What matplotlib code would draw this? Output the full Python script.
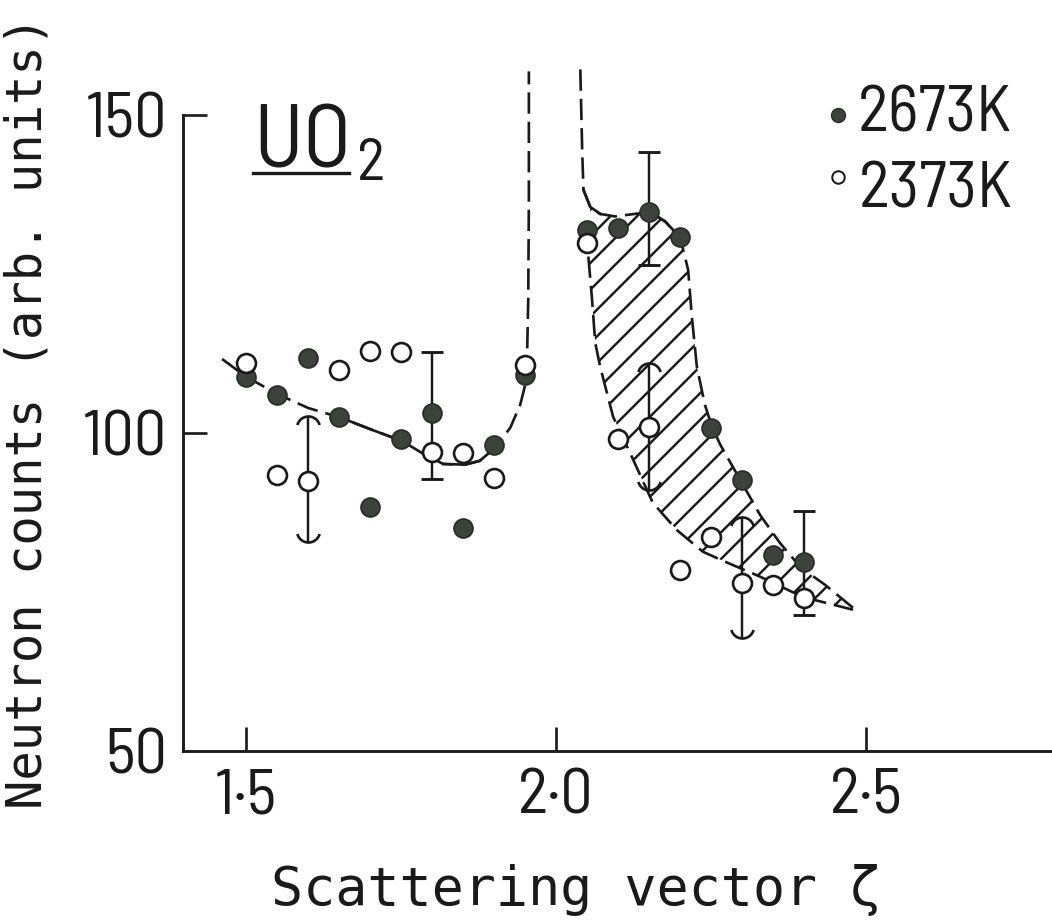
import numpy as np
import matplotlib
matplotlib.use("Agg")
import matplotlib.pyplot as plt
from matplotlib.path import Path
from matplotlib.lines import Line2D

# ---------------- data ----------------
q_left = [1.50, 1.55, 1.60, 1.65, 1.70, 1.75, 1.80, 1.85, 1.90, 1.95]
hot_left = [108.8, 106.0, 111.8, 102.5, 88.4, 99.1, 103.1, 85.1, 98.1, 109.1]     # 2673 K
cold_left = [111.0, 93.4, 92.5, 109.9, 112.9, 112.7, 97.0, 96.9, 92.9, 110.7]     # 2373 K

q_right = [2.05, 2.10, 2.15, 2.20, 2.25, 2.30, 2.35, 2.40]
hot_right = [131.9, 132.2, 134.7, 130.7, 100.8, 92.6, 80.8, 79.7]
cold_right = [129.9, 99.1, 100.9, 78.5, 83.6, 76.4, 76.1, 74.1]

hot_err_q = [1.80, 2.15, 2.40]
hot_err_lo = [92.8, 126.4, 71.4]
hot_err_hi = [112.7, 144.2, 87.7]

cold_err_q = [1.60, 2.15, 2.30]
cold_err_lo = [82.9, 91.0, 67.8]
cold_err_hi = [102.7, 111.0, 86.8]

# guide curves drawn by hand in the original
left_curve_q = [1.461, 1.500, 1.550, 1.600, 1.652, 1.702, 1.752, 1.789, 1.818, 1.853,
                1.877, 1.903, 1.926, 1.942, 1.950, 1.953, 1.955, 1.956, 1.956]
left_curve_y = [111.6, 108.8, 106.1, 103.9, 102.4, 100.5, 98.7, 96.5, 95.1, 95.0,
                95.6, 97.8, 100.8, 104.4, 107.5, 111.5, 120.9, 136.6, 156.8]

upper_curve_q = [2.039, 2.042, 2.044, 2.055, 2.071, 2.095, 2.127, 2.152, 2.176, 2.200,
                 2.213, 2.219, 2.227, 2.240, 2.252, 2.265, 2.297, 2.329, 2.361, 2.394,
                 2.434, 2.479]
upper_curve_y = [157.1, 144.5, 138.2, 135.5, 134.4, 134.0, 134.4, 134.7, 133.2, 130.7,
                 125.6, 118.2, 110.4, 104.4, 100.8, 98.1, 92.6, 87.1, 82.7, 78.9,
                 76.1, 72.5]

lower_curve_q = [2.052, 2.058, 2.063, 2.071, 2.092, 2.119, 2.156, 2.195, 2.237, 2.276,
                 2.329, 2.398, 2.479]
lower_curve_y = [127.7, 120.9, 114.2, 110.4, 102.5, 96.9, 89.0, 84.7, 81.3, 79.6,
                 77.4, 74.2, 72.2]

x_ticks = [1.5, 2.0, 2.5]
x_ticklabels = ["1\u00b75", "2\u00b70", "2\u00b75"]
y_ticks = [50, 100, 150]
y_ticklabels = ["50", "100", "150"]
series_labels = ["2673K", "2373K"]

# ---------------- style ----------------
W, H, DPI = 1052, 923, 160
plt.rcParams["hatch.linewidth"] = 1.1
NARROW = ["Barlow Semi Condensed", "Barlow Condensed", "DejaVu Sans"]
MONO = ["DejaVu Sans Mono", "DejaVu Sans"]
INK = "#1a1a1a"
DOT = "#3d423d"

fig = plt.figure(figsize=(W / DPI, H / DPI), dpi=DPI)
ax = fig.add_axes([183 / W, (H - 751) / H, (W - 183) / W, 700 / H])
ax.set_xlim(1.398, 2.80)
ax.set_ylim(50, 160)

for s in ["top", "right"]:
    ax.spines[s].set_visible(False)
ax.spines["left"].set_bounds(50, 150)
for s in ["left", "bottom"]:
    ax.spines[s].set_linewidth(1.3)
    ax.spines[s].set_color(INK)

ax.set_xticks(x_ticks)
ax.set_xticklabels(x_ticklabels)
ax.set_yticks(y_ticks)
ax.set_yticklabels(y_ticklabels)
ax.tick_params(direction="in", length=11, width=1.2, color=INK, labelsize=29)
ax.tick_params(axis="x", pad=8)
ax.tick_params(axis="y", pad=7)
for lab in ax.get_xticklabels() + ax.get_yticklabels():
    lab.set_family(NARROW)
    lab.set_color(INK)
# no tick mark at the corner (50)
ax.yaxis.get_major_ticks()[0].tick1line.set_visible(False)

# hatched band between the two right-hand curves
poly_q = np.concatenate([upper_curve_q[3:], lower_curve_q[::-1]])
poly_y = np.concatenate([upper_curve_y[3:], lower_curve_y[::-1]])
ax.fill(poly_q, poly_y, facecolor="none", edgecolor=INK, hatch="//", linewidth=0, zorder=1)

dash = (0, (8, 3))
lw = 1.2
ax.plot(left_curve_q, left_curve_y, color=INK, lw=lw, linestyle=dash, zorder=2)
ax.plot(left_curve_q[4:7], left_curve_y[4:7], color=INK, lw=lw, zorder=2)
ax.plot(left_curve_q[8:12], left_curve_y[8:12], color=INK, lw=lw, zorder=2)
ax.plot(upper_curve_q, upper_curve_y, color=INK, lw=lw, linestyle=dash, zorder=2)
ax.plot(upper_curve_q[2:5], upper_curve_y[2:5], color=INK, lw=lw, zorder=2)
ax.plot(upper_curve_q[7:10], upper_curve_y[7:10], color=INK, lw=lw, zorder=2)
ax.plot(lower_curve_q, lower_curve_y, color=INK, lw=lw, linestyle=dash, zorder=2)

# error bars: flat caps for 2673 K, curved caps for 2373 K
ax.vlines(hot_err_q, hot_err_lo, hot_err_hi, color=INK, lw=1.1, zorder=3)
ax.plot(hot_err_q, hot_err_lo, linestyle="none", marker="_", ms=10, mew=1.3, color=INK, zorder=3)
ax.plot(hot_err_q, hot_err_hi, linestyle="none", marker="_", ms=10, mew=1.3, color=INK, zorder=3)

t = np.linspace(np.radians(15), np.radians(165), 25)
arch = Path(np.column_stack([np.cos(t), np.sin(t) - 1.0]))
cup = Path(np.column_stack([np.cos(t), 1.0 - np.sin(t)]))
ax.vlines(cold_err_q, cold_err_lo, cold_err_hi, color=INK, lw=1.1, zorder=3)
ax.plot(cold_err_q, cold_err_hi, linestyle="none", marker=arch, ms=10, mew=1.2,
        color=INK, mfc="none", zorder=3)
ax.plot(cold_err_q, cold_err_lo, linestyle="none", marker=cup, ms=10, mew=1.2,
        color=INK, mfc="none", zorder=3)

# data points
mk = dict(linestyle="none", marker="o", ms=8.5, zorder=4)
ax.plot(q_left, hot_left, mfc=DOT, mec="#2a2d2a", mew=0.8, **mk)
ax.plot(q_right, hot_right, mfc=DOT, mec="#2a2d2a", mew=0.8, **mk)
ax.plot(q_left, cold_left, mfc="white", mec=INK, mew=1.2, **mk)
ax.plot(q_right, cold_right, mfc="white", mec=INK, mew=1.2, **mk)

# ---------------- texts ----------------
uo = fig.text(253 / W, 1 - 167 / H, "UO", family=NARROW, fontsize=40, color=INK,
              va="baseline")
fig.canvas.draw()
bb = uo.get_window_extent()
fig.text((bb.x1 + 6) / W, 1 - 180 / H, "2", family=NARROW, fontsize=27, color=INK,
         va="baseline")
fig.add_artist(Line2D([253 / W, (bb.x1 - 2) / W], [1 - 173 / H, 1 - 173 / H], lw=1.5,
                      color=INK, transform=fig.transFigure))

# key: small symbols followed by the temperatures
fig.add_artist(Line2D([838 / W], [1 - 115 / H], marker="o", ms=6.3, mfc=DOT, mec="#2a2d2a",
                      mew=0.6, linestyle="none", transform=fig.transFigure))
fig.add_artist(Line2D([838 / W], [1 - 177 / H], marker="o", ms=5.6, mfc="white", mec=INK,
                      mew=0.9, linestyle="none", transform=fig.transFigure))
fig.text(1012 / W, 1 - 132 / H, series_labels[0], family=NARROW, fontsize=29.5, color=INK,
         ha="right", va="baseline")
fig.text(1012 / W, 1 - 208 / H, series_labels[1], family=NARROW, fontsize=29.5, color=INK,
         ha="right", va="baseline")

fig.text(28 / W, 1 - 412 / H, "Neutron counts (arb. units)", family=MONO, fontsize=22,
         color=INK, rotation=90, ha="center", va="center")
fig.text(576 / W, 1 - 905 / H, "Scattering vector \u03b6", family=MONO, fontsize=24,
         color=INK, ha="center", va="baseline")

fig.savefig("out.png", dpi=DPI, facecolor="white")
